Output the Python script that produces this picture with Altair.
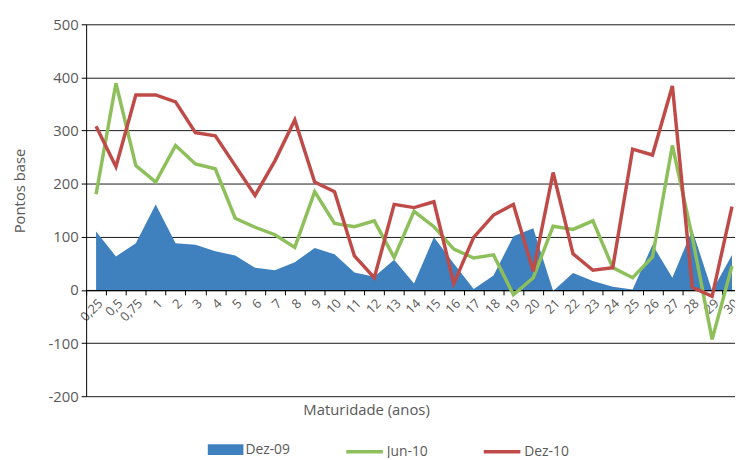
import altair as alt
import pandas as pd

cats = ["0,25", "0,5", "0,75"] + [str(i) for i in range(1, 31)]
dez09 = [110, 63, 88, 161, 88, 85, 73, 65, 42, 37, 52, 79, 67, 33, 25, 57, 12, 99, 50, 2,
         27, 101, 116, -2, 32, 17, 6, 1, 85, 23, 113, -2, 66]
jun10 = [180, 389, 234, 203, 272, 237, 228, 135, 118, 104, 80, 185, 125, 119, 130, 61, 148,
         119, 77, 60, 66, -9, 23, 120, 114, 130, 42, 23, 62, 272, 100, -93, 45]
dez10 = [308, 232, 367, 367, 354, 296, 290, 234, 178, 243, 320, 203, 185, 64, 23, 161, 155,
         166, 12, 99, 141, 161, 35, 221, 68, 37, 42, 265, 254, 384, 5, -12, 157]
y_ticks = [-200, -100, 0, 100, 200, 300, 400, 500]

BLUE = "#3F80BF"
GREEN = "#8DBF5A"
RED = "#BE4B48"
FONT = "Open Sans"
GREY = "#595959"

area_df = pd.DataFrame({"cat": cats, "value": dez09, "series": "Dez-09"})
line_df = pd.DataFrame({
    "cat": cats * 2,
    "value": jun10 + dez10,
    "series": ["Jun-10"] * len(cats) + ["Dez-10"] * len(cats),
})

H = 376
zero_offset = -H * 200 / 700

x_enc = alt.X(
    "cat:N", sort=cats, title="Maturidade (anos)",
    scale=alt.Scale(range=[0, 663], paddingInner=0, paddingOuter=0),
    axis=alt.Axis(
        labelAngle=-45, offset=zero_offset, tickBand="extent", domainColor="#000000",
        tickColor="#000000", tickSize=5, labelColor=GREY, labelFont=FONT, labelFontSize=13,
        labelPadding=2, grid=False, titleFont=FONT, titleFontSize=15, titleColor=GREY,
        titleFontWeight="normal", titleX=283, titleY=121, titleBaseline="middle",
        labelOverlap=False,
    ),
)
y_scale = alt.Scale(domain=[-200, 500], nice=False)
y_axis = alt.Axis(
    values=y_ticks, grid=True, gridColor="#1a1a1a", gridWidth=1, domainColor="#000000",
    tickColor="#000000", tickSize=5, labelColor=GREY, labelFont=FONT, labelFontSize=15,
    labelPadding=3, labelExpr="'' + datum.value",
    title="Pontos base", titleFont=FONT, titleFontSize=15, titleColor=GREY,
    titleFontWeight="normal", titleX=-67, titleY=168, titleAlign="center",
    titleBaseline="middle",
)

area = alt.Chart(area_df).mark_area(opacity=1).encode(
    x=x_enc,
    y=alt.Y("value:Q", scale=y_scale, axis=y_axis),
    y2=alt.datum(0),
    fill=alt.Fill(
        "series:N", scale=alt.Scale(domain=["Dez-09"], range=[BLUE]),
        legend=alt.Legend(
            title=None, orient="none", legendX=123, legendY=412,
            symbolType="M-1,-0.3H1V0.3H-1Z", symbolSize=1296, symbolStrokeWidth=0,
            symbolOpacity=1, labelFont=FONT, labelFontSize=14, labelColor=GREY, labelOffset=2,
        ),
    ),
)

lines = alt.Chart(line_df).mark_line(strokeWidth=3.5).encode(
    x=alt.X("cat:N", sort=cats),
    y=alt.Y("value:Q", scale=y_scale),
    stroke=alt.Stroke(
        "series:N", scale=alt.Scale(domain=["Jun-10", "Dez-10"], range=[GREEN, RED]),
        legend=alt.Legend(
            title=None, orient="none", legendX=261, legendY=411.5, direction="horizontal",
            symbolType="stroke", symbolSize=1369, symbolStrokeWidth=3.5, columnPadding=49,
            labelFont=FONT, labelFontSize=14, labelColor=GREY, labelOffset=2,
        ),
    ),
    detail="series:N",
)

chart = alt.layer(area, lines).resolve_scale(fill="independent", stroke="independent").properties(
    width=656, height=H,
    autosize=alt.AutoSizeParams(type="none"),
    padding={"left": 79, "top": 14, "right": 0, "bottom": 60},
).configure_view(stroke=None)

chart.save("out.html", embed_options={"renderer": "svg", "actions": False})
